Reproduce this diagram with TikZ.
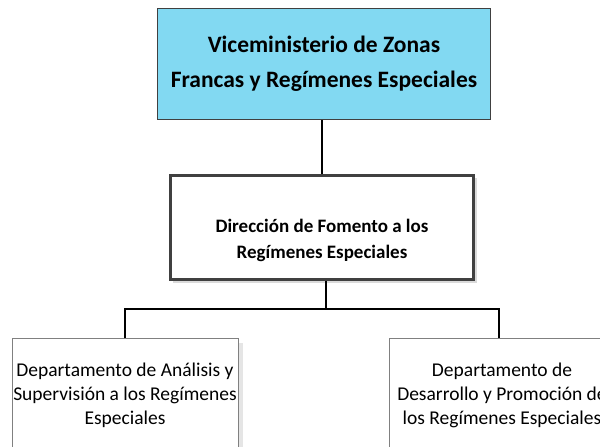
\documentclass[tikz,border=0pt]{standalone}
\usepackage{fontspec}
\setmainfont{Carlito}
\usetikzlibrary{positioning}
\definecolor{topfill}{HTML}{82D9F2}
\definecolor{edge}{HTML}{404040}
\definecolor{shadowc}{HTML}{DADADA}
\tikzset{
  topbox/.style={draw=edge, line width=1pt, fill=topfill, minimum width=333pt, minimum height=111pt, align=center, font=\bfseries\fontsize{23.5}{35}\selectfont, inner sep=0pt},
  midbox/.style={draw=edge, line width=3pt, fill=white, minimum width=303pt, minimum height=104pt, inner sep=0pt},
  midtext/.style={font=\bfseries\fontsize{19}{26}\selectfont, align=center},
  deptbox/.style={draw=gray, line width=0.8pt, fill=white, minimum width=226pt, minimum height=140pt, inner sep=0pt},
  depttext/.style={font=\fontsize{19.5}{24}\selectfont, align=center, anchor=north},
  conn/.style={draw=black, line width=1.5pt},
}
\begin{document}
\begin{tikzpicture}[x=1pt,y=-1pt]
\useasboundingbox (0,0) rectangle (600,447);
\clip (0,0) rectangle (600,447);
\fill[white] (0,0) rectangle (600,447);
% shadows
\fill[shadowc] (173,178) rectangle (477,283);
\fill[shadowc!70] (17,343) rectangle (243,480);
\fill[shadowc!70] (394,343) rectangle (620,480);
% nodes
\node[topbox, anchor=north west] (vice) at (157,8) {Viceministerio de Zonas\\Francas y Regímenes Especiales};
\node[midbox, anchor=north west] (dir) at (169,174) {};
\node[midtext] (dirtext) at ([yshift=-13pt]dir.center) {Dirección de Fomento a los\\Regímenes Especiales};
\node[deptbox, anchor=north west] (dep1) at (12,338) {};
\node[deptbox, anchor=north west] (dep2) at (389,338) {};
\node[depttext] (dep1t) at (125,359) {Departamento de Análisis y\\Supervisión a los Regímenes\\Especiales};
\node[depttext] (dep2t) at (502,359) {Departamento de\\Desarrollo y Promoción de\\los Regímenes Especiales};
% connectors
\coordinate (jl) at (125,309);
\coordinate (jr) at (499,309);
\coordinate (jm) at (326,309);
\draw[conn] (vice.south -| 322,0) -- (dir.north -| 322,0);
\draw[conn] (jm |- dir.south) -- (jm);
\draw[conn] (dep1.north -| jl) -- (jl) -- (jr) -- (dep2.north -| jr);
\end{tikzpicture}
\end{document}
